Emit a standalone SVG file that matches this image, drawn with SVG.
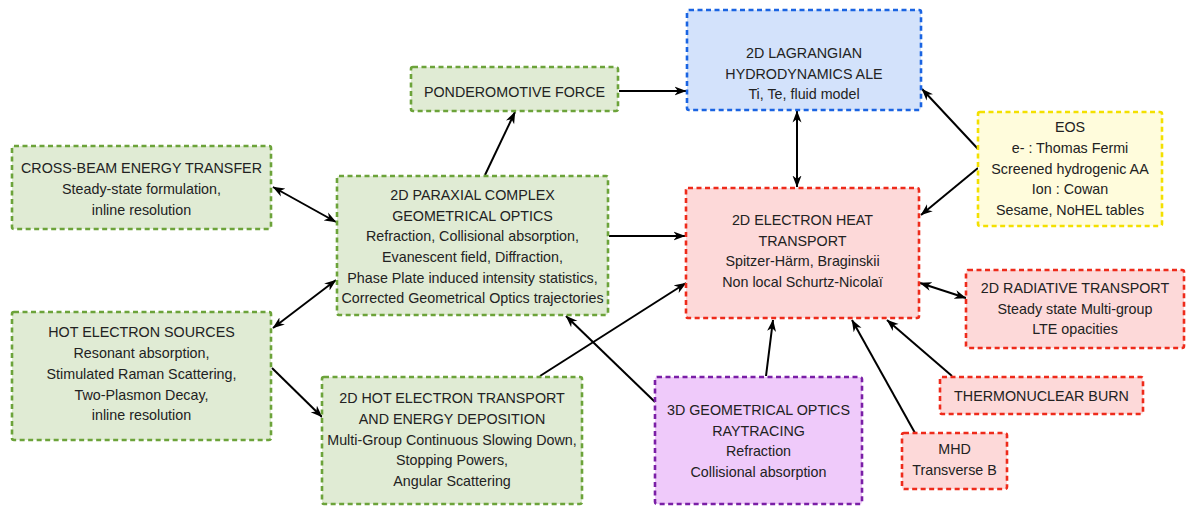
<svg xmlns="http://www.w3.org/2000/svg" width="1186" height="506" viewBox="0 0 1186 506">
<defs>
<marker id="ah" viewBox="0 0 12 10" refX="11.5" refY="5" markerWidth="12" markerHeight="10" markerUnits="userSpaceOnUse" orient="auto-start-reverse">
<path d="M0,0.5 L12,5 L0,9.5 L3.5,5 z" fill="#000"/>
</marker>
<style>
.box{stroke-width:2.6;stroke-dasharray:5 3.5}
.g{fill:#e0ebd4;stroke:#6ca33a}
.b{fill:#d3e2fb;stroke:#1a64e2}
.r{fill:#fdd9d9;stroke:#ee2b1b}
.y{fill:#fffcdc;stroke:#f3e000}
.p{fill:#efcafa;stroke:#7a1fa6}
text{font-family:"Liberation Sans",Arial,sans-serif;font-size:14.3px;fill:#222;text-anchor:middle}
.c line{stroke:#000;stroke-width:2;fill:none}
</style>
</defs>
<rect width="1186" height="506" fill="#fff"/>

<g class="c" id="connectors">
<line x1="273" y1="187" x2="336" y2="222" marker-start="url(#ah)" marker-end="url(#ah)"/>
<line x1="273" y1="328" x2="336" y2="280" marker-start="url(#ah)" marker-end="url(#ah)"/>
<line x1="272" y1="368" x2="322" y2="417" marker-end="url(#ah)"/>
<line x1="485" y1="175" x2="515" y2="112" marker-end="url(#ah)"/>
<line x1="619" y1="91" x2="686" y2="91" marker-end="url(#ah)"/>
<line x1="797" y1="111" x2="797" y2="187" marker-start="url(#ah)" marker-end="url(#ah)"/>
<line x1="978" y1="149" x2="922" y2="89" marker-end="url(#ah)"/>
<line x1="978" y1="168" x2="921" y2="215" marker-end="url(#ah)"/>
<line x1="609" y1="236" x2="685" y2="236" marker-end="url(#ah)"/>
<line x1="540" y1="376" x2="686" y2="283" marker-end="url(#ah)"/>
<line x1="655" y1="402" x2="566" y2="316" marker-end="url(#ah)"/>
<line x1="766" y1="376" x2="773" y2="320" marker-end="url(#ah)"/>
<line x1="915" y1="433" x2="852" y2="320" marker-end="url(#ah)"/>
<line x1="952" y1="376" x2="887" y2="320" marker-end="url(#ah)"/>
<line x1="920" y1="283" x2="966" y2="298" marker-start="url(#ah)" marker-end="url(#ah)"/>
</g>

<g id="crossbeam">
<rect class="box g" x="12" y="146" width="259" height="83" rx="2"/>
<text x="141.5" y="173">CROSS-BEAM ENERGY TRANSFER</text>
<text x="141.5" y="194">Steady-state formulation,</text>
<text x="141.5" y="215">inline resolution</text>
</g>

<g id="ponderomotive">
<rect class="box g" x="411" y="67" width="207" height="44" rx="2"/>
<text x="514.5" y="97">PONDEROMOTIVE FORCE</text>
</g>

<g id="lagrangian">
<rect class="box b" x="687" y="10" width="234" height="100" rx="2"/>
<text x="804" y="58">2D LAGRANGIAN</text>
<text x="804" y="78.5">HYDRODYNAMICS ALE</text>
<text x="804" y="99">Ti, Te, fluid model</text>
</g>

<g id="paraxial">
<rect class="box g" x="337" y="176" width="271" height="139" rx="2"/>
<text x="472.5" y="200">2D PARAXIAL COMPLEX</text>
<text x="472.5" y="220.5">GEOMETRICAL OPTICS</text>
<text x="472.5" y="241">Refraction, Collisional absorption,</text>
<text x="472.5" y="262">Evanescent field, Diffraction,</text>
<text x="472.5" y="282.5">Phase Plate induced intensity statistics,</text>
<text x="472.5" y="303">Corrected Geometrical Optics trajectories</text>
</g>

<g id="heat">
<rect class="box r" x="686" y="188" width="233" height="130" rx="2"/>
<text x="802.5" y="225">2D ELECTRON HEAT</text>
<text x="802.5" y="245.5">TRANSPORT</text>
<text x="802.5" y="266">Spitzer-Härm, Braginskii</text>
<text x="802.5" y="287">Non local Schurtz-Nicolaï</text>
</g>

<g id="eos">
<rect class="box y" x="978" y="112" width="184" height="114" rx="2"/>
<text x="1070" y="132">EOS</text>
<text x="1070" y="153">e- : Thomas Fermi</text>
<text x="1070" y="174">Screened hydrogenic AA</text>
<text x="1070" y="194">Ion : Cowan</text>
<text x="1070" y="215">Sesame, NoHEL tables</text>
</g>

<g id="hotsources">
<rect class="box g" x="12" y="312" width="259" height="128" rx="2"/>
<text x="141.5" y="337">HOT ELECTRON SOURCES</text>
<text x="141.5" y="358">Resonant absorption,</text>
<text x="141.5" y="379">Stimulated Raman Scattering,</text>
<text x="141.5" y="400">Two-Plasmon Decay,</text>
<text x="141.5" y="420">inline resolution</text>
</g>

<g id="hottransport">
<rect class="box g" x="322" y="377" width="260" height="127" rx="2"/>
<text x="452" y="403">2D HOT ELECTRON TRANSPORT</text>
<text x="452" y="424">AND ENERGY DEPOSITION</text>
<text x="452" y="445">Multi-Group Continuous Slowing Down,</text>
<text x="452" y="465">Stopping Powers,</text>
<text x="452" y="486">Angular Scattering</text>
</g>

<g id="raytracing">
<rect class="box p" x="655" y="377" width="207" height="127" rx="2"/>
<text x="758.5" y="415">3D GEOMETRICAL OPTICS</text>
<text x="758.5" y="435.5">RAYTRACING</text>
<text x="758.5" y="456">Refraction</text>
<text x="758.5" y="477">Collisional absorption</text>
</g>

<g id="radiative">
<rect class="box r" x="966" y="270" width="218" height="78" rx="2"/>
<text x="1075" y="293">2D RADIATIVE TRANSPORT</text>
<text x="1075" y="313.5">Steady state Multi-group</text>
<text x="1075" y="334">LTE opacities</text>
</g>

<g id="thermonuclear">
<rect class="box r" x="940" y="377" width="203" height="37" rx="2"/>
<text x="1041.5" y="401">THERMONUCLEAR BURN</text>
</g>

<g id="mhd">
<rect class="box r" x="902" y="433" width="105" height="56" rx="2"/>
<text x="954.5" y="454">MHD</text>
<text x="954.5" y="475">Transverse B</text>
</g>
</svg>
